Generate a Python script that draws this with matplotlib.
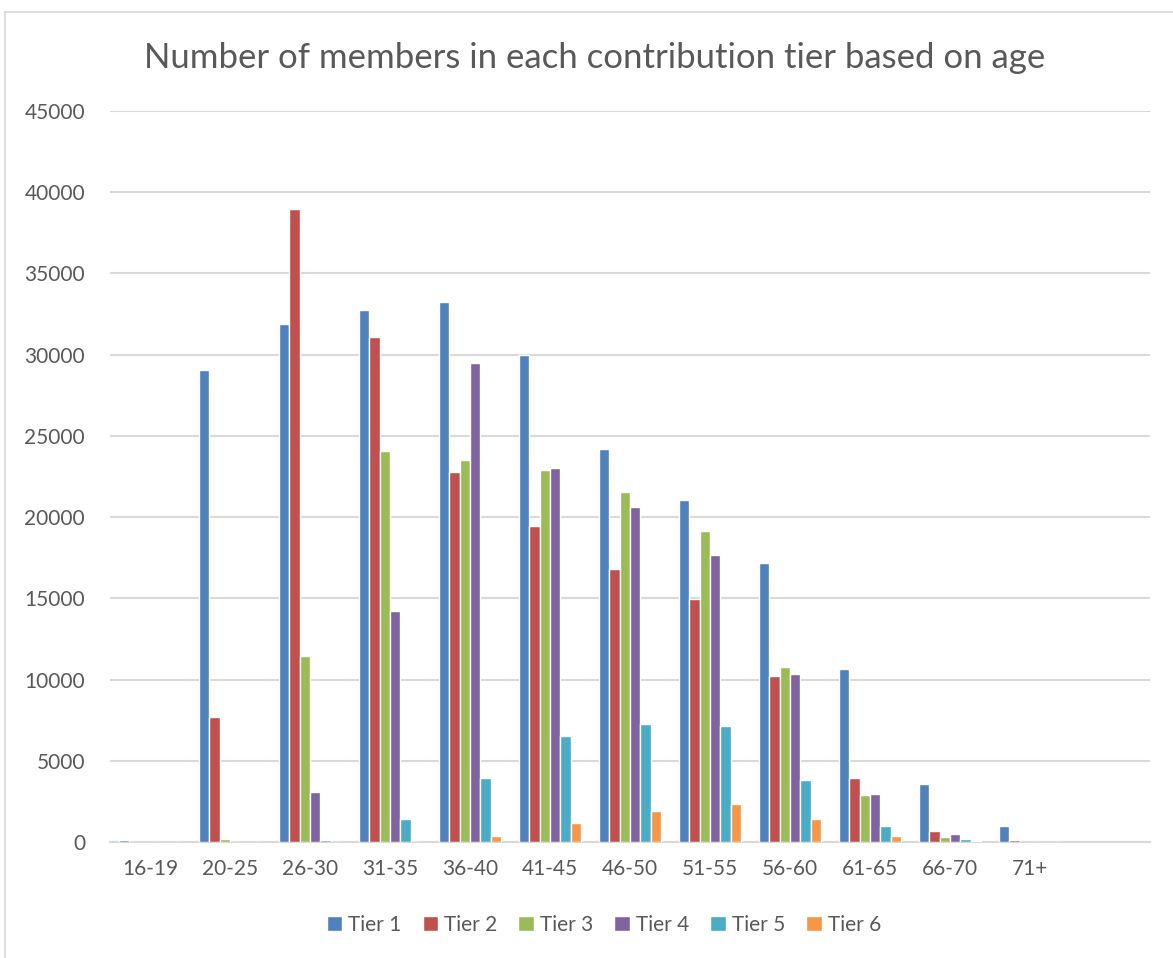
import matplotlib.pyplot as plt
import numpy as np

# === Data ===
age_groups = ["16-19", "20-25", "26-30", "31-35", "36-40", "41-45",
              "46-50", "51-55", "56-60", "61-65", "66-70", "71+"]
tier_names = ["Tier 1", "Tier 2", "Tier 3", "Tier 4", "Tier 5", "Tier 6"]

tier1 = [100, 29050, 31900, 32720, 33240, 30000, 24200, 21030, 17150, 10640, 3550, 970]
tier2 = [0, 7720, 38960, 31060, 22800, 19480, 16790, 14950, 10200, 3940, 700, 100]
tier3 = [0, 210, 11480, 24070, 23500, 22930, 21540, 19140, 10800, 2920, 330, 10]
tier4 = [0, 0, 3060, 14250, 29510, 23000, 20600, 17660, 10330, 2980, 510, 20]
tier5 = [0, 0, 100, 1400, 3960, 6550, 7250, 7130, 3800, 990, 160, 0]
tier6 = [0, 0, 0, 20, 340, 1190, 1890, 2320, 1440, 350, 40, 0]

colors = ["#4F81BD", "#C0504D", "#9BBB59", "#8064A2", "#4BACC6", "#F79646"]
text_color = "#595959"
grid_color = "#D9D9D9"

plt.rcParams["font.family"] = ["Lato", "DejaVu Sans"]

fig = plt.figure(figsize=(11.73, 9.58), dpi=100)
ax = fig.add_axes([110 / 1173, 1 - 842 / 958, 1040 / 1173, 731 / 958])

# chart border (top and left visible)
fig.add_artist(plt.Line2D([5 / 1173, 1], [1 - 12 / 958, 1 - 12 / 958],
                          transform=fig.transFigure, color=grid_color, lw=1.2))
fig.add_artist(plt.Line2D([5 / 1173, 5 / 1173], [0, 1 - 12 / 958],
                          transform=fig.transFigure, color=grid_color, lw=1.2))

x = np.arange(len(age_groups))
bar_w = 0.131
series = [tier1, tier2, tier3, tier4, tier5, tier6]
for i, (vals, name, col) in enumerate(zip(series, tier_names, colors)):
    ax.bar(x + (i - 2.5) * bar_w, vals, width=bar_w, color=col,
           edgecolor="white", linewidth=1, label=name, zorder=3)

ax.set_xlim(-0.5, len(age_groups) + 0.5)
ax.set_ylim(0, 45000)
ax.set_yticks(np.arange(0, 45001, 5000))
ax.set_xticks(x)
ax.set_xticklabels(age_groups)
ax.tick_params(axis="both", length=0, labelsize=15, colors=text_color)
ax.tick_params(axis="y", pad=18)
ax.tick_params(axis="x", pad=12)

ax.grid(axis="y", color=grid_color, lw=1.5, zorder=0)
for s in ["top", "right", "left"]:
    ax.spines[s].set_visible(False)
ax.spines["bottom"].set_color(grid_color)
ax.spines["bottom"].set_linewidth(1.5)

fig.text(595 / 1173, 1 - 58 / 958, "Number of members in each contribution tier based on age",
         ha="center", va="center", fontsize=25, color=text_color)

leg = fig.legend(loc="center", bbox_to_anchor=(604 / 1173, 1 - 925 / 958), ncol=6,
                 frameon=False, fontsize=15, handlelength=0.75, handleheight=0.75,
                 handletextpad=0.3, columnspacing=1.0)
for t in leg.get_texts():
    t.set_color(text_color)

plt.savefig("out.png", dpi=100)
